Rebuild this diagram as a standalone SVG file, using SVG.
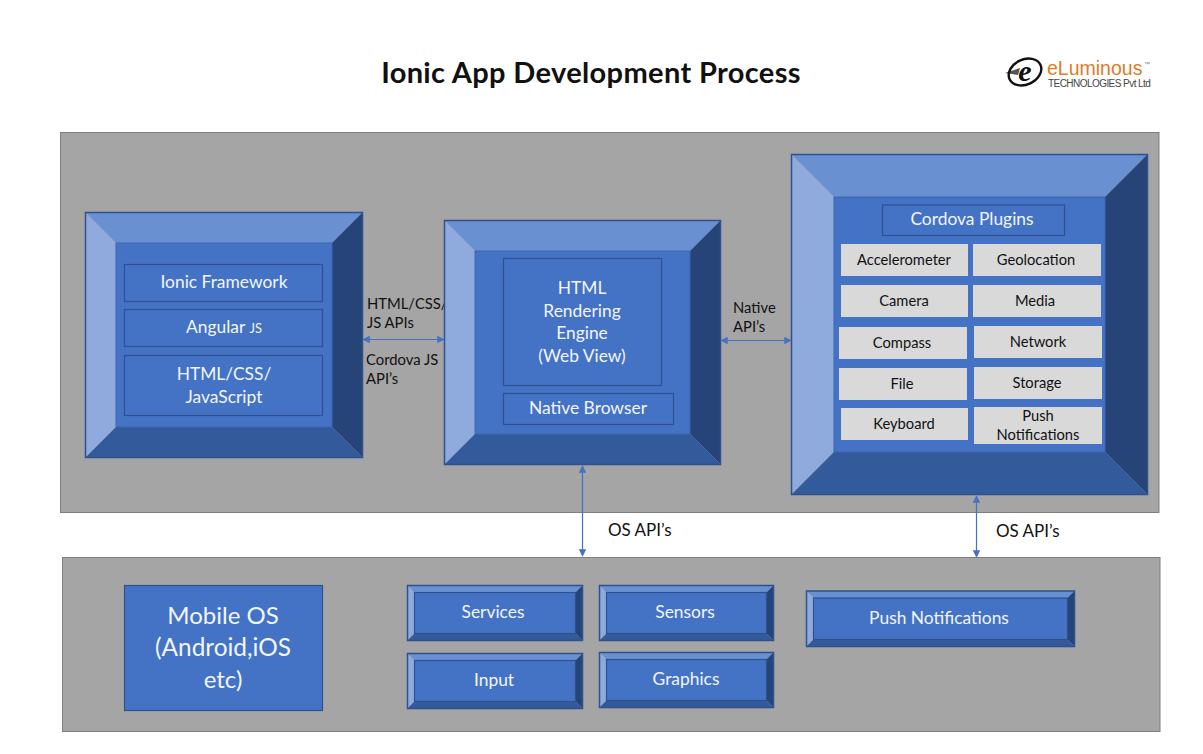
<svg xmlns="http://www.w3.org/2000/svg" width="1203" height="754" viewBox="0 0 1203 754">
<style>
text{font-family:"Lato","Liberation Sans",sans-serif;text-anchor:middle}
.panel{fill:#A5A5A5;stroke:#7F7F7F;stroke-width:1}
.f{fill:#4472C4;stroke:#2F528F;stroke-width:1.2}
.i{fill:#4472C4;stroke:#3D66B0;stroke-width:1}
.t{fill:#6990D0}.l{fill:#8FAADC}.r{fill:#264478}.b{fill:#335A9A}
.o{fill:none;stroke:#2F528F;stroke-width:1.5}
.g{fill:#D9D9D9}
.w{fill:#F2F6FC;font-size:17.4px}
.k{fill:#111;font-size:14.7px}
.a{fill:#111;font-size:14.8px;text-anchor:start}
.c{stroke:#4472C4;stroke-width:1.2;fill:none;marker-start:url(#h);marker-end:url(#h)}
</style>
<defs><marker id="h" viewBox="0 0 10 10" refX="9" refY="5" markerWidth="7.5" markerHeight="7.5" orient="auto-start-reverse" markerUnits="userSpaceOnUse"><path d="M0 0L10 5L0 10Z" fill="#4472C4"/></marker></defs>
<rect width="1203" height="754" fill="#fff"/>
<text id="title" x="591" y="83" style="font-size:29px;font-weight:700;letter-spacing:.35px" fill="#111">Ionic App Development Process</text>
<g id="logo">
<path d="M1005 73L1020 68L1018 75Z" fill="#555"/>
<ellipse cx="1025" cy="72" rx="17" ry="12.5" transform="rotate(-25 1025 72)" fill="none" stroke="#111" stroke-width="2.4"/>
<text x="1025" y="81" style="font-family:'Liberation Serif',serif;font-size:30px;font-style:italic;font-weight:700" fill="#111">e</text>
<text x="1047" y="75" style="font-family:'Liberation Sans',sans-serif;font-size:19.5px;text-anchor:start" fill="#E07B28">eLuminous</text>
<text x="1144" y="66" style="font-family:'Liberation Sans',sans-serif;font-size:6px;text-anchor:start" fill="#777">™</text>
<text x="1048" y="87" style="font-family:'Liberation Sans',sans-serif;font-size:10px;text-anchor:start;letter-spacing:-.55px" fill="#444">TECHNOLOGIES  Pvt Ltd</text>
</g>
<rect id="panel-top" class="panel" x="60.5" y="132.5" width="1098.5" height="380"/>
<rect id="panel-bottom" class="panel" x="62.5" y="557.5" width="1097.5" height="174"/>
<g id="connectors">
<line class="c" x1="363" y1="339.5" x2="444" y2="339.5"/>
<line class="c" x1="721" y1="340.5" x2="791" y2="340.5"/>
<line class="c" x1="582.5" y1="466" x2="582.5" y2="556"/>
<line class="c" x1="976.5" y1="496" x2="976.5" y2="557"/>
</g>
<text class="a" x="367" y="309">HTML/CSS/</text><text class="a" x="367" y="328">JS APIs</text>
<text class="a" x="366" y="365">Cordova JS</text><text class="a" x="366" y="384">API’s</text>
<text class="a" x="733" y="313">Native</text><text class="a" x="733" y="332">API’s</text>
<text class="a" x="608" y="536" style="font-size:17px">OS API’s</text>
<text class="a" x="996" y="537" style="font-size:17px">OS API’s</text>
<g id="ionic-stack">
<polygon class="t" points="85.5,212.5 362.5,212.5 332,243 116,243"/><polygon class="l" points="85.5,212.5 116,243 116,427 85.5,457.5"/><polygon class="r" points="362.5,212.5 362.5,457.5 332,427 332,243"/><polygon class="b" points="85.5,457.5 116,427 332,427 362.5,457.5"/>
<rect class="i" x="116" y="243" width="216" height="184"/><rect class="o" x="85.5" y="212.5" width="277" height="245"/>
<rect class="f" x="124.5" y="264.5" width="198" height="37"/><text class="w" x="224" y="288">Ionic Framework</text>
<rect class="f" x="124.5" y="309.5" width="198" height="37"/><text class="w" x="224" y="333">Angular <tspan style="font-size:13px">JS</tspan></text>
<rect class="f" x="124.5" y="355.5" width="198" height="60"/><text class="w" x="224" y="380">HTML/CSS/</text><text class="w" x="224" y="403">JavaScript</text>
</g>
<g id="rendering">
<polygon class="t" points="444.5,220.5 720.5,220.5 690,251 475,251"/><polygon class="l" points="444.5,220.5 475,251 475,434 444.5,464.5"/><polygon class="r" points="720.5,220.5 720.5,464.5 690,434 690,251"/><polygon class="b" points="444.5,464.5 475,434 690,434 720.5,464.5"/>
<rect class="i" x="475" y="251" width="215" height="183"/><rect class="o" x="444.5" y="220.5" width="276" height="244"/>
<rect class="f" x="503.5" y="258.5" width="158" height="127"/>
<text class="w" x="582" y="294">HTML</text><text class="w" x="582" y="317">Rendering</text><text class="w" x="582" y="339">Engine</text><text class="w" x="582" y="362">(Web View)</text>
<rect class="f" x="503.5" y="393.5" width="170" height="31"/><text class="w" x="588" y="414">Native Browser</text>
</g>
<g id="cordova">
<polygon class="t" points="791.5,154.5 1147.5,154.5 1105,197 834,197"/><polygon class="l" points="791.5,154.5 834,197 834,452 791.5,494.5"/><polygon class="r" points="1147.5,154.5 1147.5,494.5 1105,452 1105,197"/><polygon class="b" points="791.5,494.5 834,452 1105,452 1147.5,494.5"/>
<rect class="i" x="834" y="197" width="271" height="255"/><rect class="o" x="791.5" y="154.5" width="356" height="340"/>
<rect class="f" x="882.5" y="205" width="182" height="30.5"/><text class="w" x="972" y="225">Cordova Plugins</text>
<rect class="g" x="841" y="244" width="127" height="32"/><text class="k" x="904" y="265">Accelerometer</text>
<rect class="g" x="973" y="244" width="128" height="32"/><text class="k" x="1036" y="265">Geolocation</text>
<rect class="g" x="841" y="285" width="127" height="32"/><text class="k" x="904" y="306">Camera</text>
<rect class="g" x="973" y="285" width="128" height="32"/><text class="k" x="1035" y="306">Media</text>
<rect class="g" x="839" y="327" width="128" height="32"/><text class="k" x="902" y="348">Compass</text>
<rect class="g" x="974" y="326" width="128" height="32"/><text class="k" x="1038" y="347">Network</text>
<rect class="g" x="839" y="368" width="128" height="32"/><text class="k" x="902" y="389">File</text>
<rect class="g" x="974" y="367" width="128" height="32"/><text class="k" x="1037" y="388">Storage</text>
<rect class="g" x="841" y="408" width="127" height="32"/><text class="k" x="904" y="429">Keyboard</text>
<rect class="g" x="974" y="407" width="128" height="37"/><text class="k" x="1038" y="421">Push</text><text class="k" x="1038" y="440">Notifications</text>
</g>
<g id="mobile-os"><rect class="f" x="124.5" y="585.5" width="198" height="125"/>
<text class="w" x="223" y="624" style="font-size:24px">Mobile OS</text><text class="w" x="223" y="656" style="font-size:24.4px">(Android,iOS</text><text class="w" x="223" y="688" style="font-size:24px">etc)</text></g>
<g id="services">
<polygon class="t" points="407.5,585.5 582.5,585.5 575.5,592.5 414.5,592.5"/><polygon class="l" points="407.5,585.5 414.5,592.5 414.5,633.5 407.5,640.5"/><polygon class="r" points="582.5,585.5 582.5,640.5 575.5,633.5 575.5,592.5"/><polygon class="b" points="407.5,640.5 414.5,633.5 575.5,633.5 582.5,640.5"/>
<rect class="f" x="414.5" y="592.5" width="161" height="41"/><rect class="o" x="407.5" y="585.5" width="175" height="55"/><text class="w" x="493" y="618">Services</text></g>
<g id="sensors">
<polygon class="t" points="599.5,585.5 773.5,585.5 766.5,592.5 606.5,592.5"/><polygon class="l" points="599.5,585.5 606.5,592.5 606.5,633.5 599.5,640.5"/><polygon class="r" points="773.5,585.5 773.5,640.5 766.5,633.5 766.5,592.5"/><polygon class="b" points="599.5,640.5 606.5,633.5 766.5,633.5 773.5,640.5"/>
<rect class="f" x="606.5" y="592.5" width="160" height="41"/><rect class="o" x="599.5" y="585.5" width="174" height="55"/><text class="w" x="685" y="618">Sensors</text></g>
<g id="input">
<polygon class="t" points="407.5,653.5 582.5,653.5 575.5,660.5 414.5,660.5"/><polygon class="l" points="407.5,653.5 414.5,660.5 414.5,701.5 407.5,708.5"/><polygon class="r" points="582.5,653.5 582.5,708.5 575.5,701.5 575.5,660.5"/><polygon class="b" points="407.5,708.5 414.5,701.5 575.5,701.5 582.5,708.5"/>
<rect class="f" x="414.5" y="660.5" width="161" height="41"/><rect class="o" x="407.5" y="653.5" width="175" height="55"/><text class="w" x="494" y="686">Input</text></g>
<g id="graphics">
<polygon class="t" points="599.5,652.5 773.5,652.5 766.5,659.5 606.5,659.5"/><polygon class="l" points="599.5,652.5 606.5,659.5 606.5,700.5 599.5,707.5"/><polygon class="r" points="773.5,652.5 773.5,707.5 766.5,700.5 766.5,659.5"/><polygon class="b" points="599.5,707.5 606.5,700.5 766.5,700.5 773.5,707.5"/>
<rect class="f" x="606.5" y="659.5" width="160" height="41"/><rect class="o" x="599.5" y="652.5" width="174" height="55"/><text class="w" x="686" y="685">Graphics</text></g>
<g id="push">
<polygon class="t" points="806.5,591 1074.5,591 1067.5,598 813.5,598"/><polygon class="l" points="806.5,591 813.5,598 813.5,639.5 806.5,646.5"/><polygon class="r" points="1074.5,591 1074.5,646.5 1067.5,639.5 1067.5,598"/><polygon class="b" points="806.5,646.5 813.5,639.5 1067.5,639.5 1074.5,646.5"/>
<rect class="f" x="813.5" y="598" width="254" height="41.5"/><rect class="o" x="806.5" y="591" width="268" height="55.5"/><text class="w" x="939" y="624">Push Notifications</text></g>
</svg>
